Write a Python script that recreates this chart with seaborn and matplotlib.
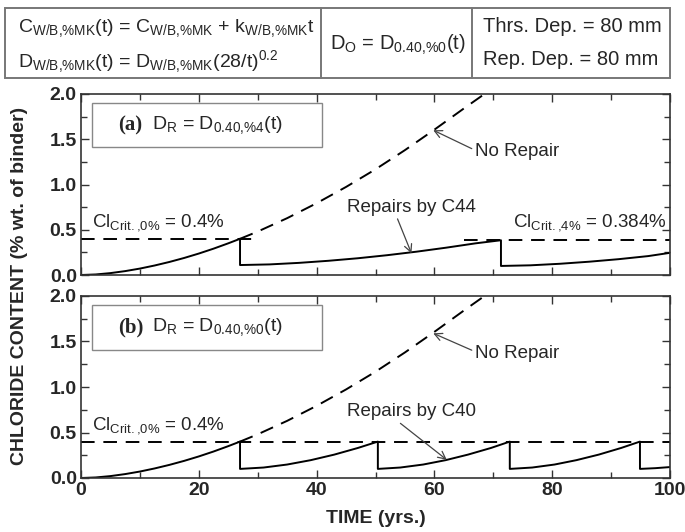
import numpy as np
import pandas as pd
import matplotlib
matplotlib.use("Agg")
import matplotlib.pyplot as plt
import seaborn as sns
from matplotlib.patches import Rectangle
from matplotlib.lines import Line2D

# ---------------- data ----------------
# initial corrosion period (same in both panels), solid
t_init = [0, 2.5, 5, 7.5, 10, 12.5, 15, 17.5, 20, 22.5, 25, 27]
c_init = [0.0, 0.006, 0.021, 0.043, 0.071, 0.105, 0.144, 0.188, 0.237, 0.291, 0.350, 0.40]

# no-repair continuation, dashed
t_norep = [27, 30, 35, 40, 45, 50, 55, 60, 65, 68.5]
c_norep = [0.40, 0.48, 0.628, 0.793, 0.973, 1.168, 1.38, 1.606, 1.84, 2.0]

# panel (a): repairs by C44
t_rep_a = [27, 27, 32, 37, 42, 47, 52, 57, 62, 67, 71.3,
           71.3, 76.3, 81.3, 86.3, 91.3, 96.3, 100]
c_rep_a = [0.40, 0.11, 0.117, 0.134, 0.157, 0.185, 0.219, 0.258, 0.302, 0.350, 0.384,
           0.10, 0.107, 0.124, 0.147, 0.175, 0.209, 0.245]

# panel (b): repairs by C40
t_rep_b = [27, 27, 31, 35, 39, 43, 47, 50.4,
           50.4, 54.2, 58.1, 61.9, 65.7, 69.6, 72.8,
           72.8, 76.6, 80.4, 84.1, 87.9, 91.7, 94.9,
           94.9, 97.5, 100]
c_rep_b = [0.40, 0.10, 0.115, 0.148, 0.196, 0.257, 0.330, 0.40,
           0.10, 0.115, 0.148, 0.196, 0.257, 0.330, 0.40,
           0.10, 0.115, 0.148, 0.196, 0.257, 0.330, 0.40,
           0.10, 0.108, 0.12]

# critical chloride thresholds
thr_a1_t = [0, 30]
thr_a1_c = [0.4, 0.4]
thr_a2_t = [65, 100]
thr_a2_c = [0.384, 0.384]
thr_b_t = [0, 100]
thr_b_c = [0.4, 0.4]

x_ticks = [0, 20, 40, 60, 80, 100]
y_ticks = [0.0, 0.5, 1.0, 1.5, 2.0]

# ---------------- style ----------------
sns.set_theme(style="ticks")
plt.rcParams['font.family'] = ['Liberation Sans', 'DejaVu Sans']
plt.rcParams['mathtext.fontset'] = 'custom'
plt.rcParams['mathtext.rm'] = 'Liberation Sans'
plt.rcParams['mathtext.it'] = 'Liberation Sans:italic'
plt.rcParams['mathtext.bf'] = 'Liberation Sans:bold'
plt.rcParams['axes.edgecolor'] = '#333333'

W, H = 685, 532
fig = plt.figure(figsize=(W / 100, H / 100), dpi=100)


def fx(px):
    return px / W


def fy(py):
    return 1 - py / H


ax_a = fig.add_axes([fx(81), fy(275), fx(670) - fx(81), fy(94) - fy(275)])
ax_b = fig.add_axes([fx(81), fy(478), fx(670) - fx(81), fy(296) - fy(478)])

dash = (0, (7, 4.5))
LW = 1.4


def draw(ax, t, c, ls='-'):
    sns.lineplot(x=t, y=c, ax=ax, color='black', lw=LW, sort=False,
                 estimator=None, linestyle=ls if isinstance(ls, str) else None)
    if not isinstance(ls, str):
        ax.lines[-1].set_linestyle(ls)


# panel a
draw(ax_a, t_init, c_init)
draw(ax_a, t_norep, c_norep, dash)
draw(ax_a, t_rep_a, c_rep_a)
draw(ax_a, thr_a1_t, thr_a1_c, dash)
draw(ax_a, thr_a2_t, thr_a2_c, dash)

# panel b
draw(ax_b, t_init, c_init)
draw(ax_b, t_norep, c_norep, dash)
draw(ax_b, t_rep_b, c_rep_b)
draw(ax_b, thr_b_t, thr_b_c, dash)

for ax in (ax_a, ax_b):
    ax.set_xlim(0, 100)
    ax.set_ylim(0, 2.0)
    ax.set_xticks(x_ticks)
    ax.set_xticks(np.arange(10, 100, 20), minor=True)
    ax.set_yticks(y_ticks)
    ax.set_yticks([0.25, 0.75, 1.25, 1.75], minor=True)
    ax.set_yticklabels([f"{v:.1f}" for v in y_ticks], fontsize=14, fontweight='bold')
    ax.tick_params(which='both', direction='in', top=True, right=True, width=1.0,
                   color='#333333')
    ax.tick_params(which='major', length=6, pad=3)
    ax.tick_params(which='minor', length=4)
    for s in ax.spines.values():
        s.set_linewidth(1.2)
    ax.set_xlabel('')
    ax.set_ylabel('')

ax_a.set_xticklabels([])
ax_b.set_xticklabels([str(v) for v in x_ticks], fontsize=14, fontweight='bold')
ax_b.set_xlabel('TIME (yrs.)', fontsize=14, fontweight='bold', labelpad=8)

fig.text(fx(20), fy(286), 'CHLORIDE CONTENT (% wt. of binder)', rotation=90,
         fontsize=14, fontweight='bold', ha='center', va='center')

# panel label boxes
for ax, lab, sub in ((ax_a, '(a)', r'D$_\mathrm{R}$ = D$_\mathrm{0.40{,}\%4}$(t)'),
                     (ax_b, '(b)', r'D$_\mathrm{R}$ = D$_\mathrm{0.40{,}\%0}$(t)')):
    ax.add_patch(Rectangle((1.9, 1.41), 39.0, 0.49, fill=False, edgecolor='#888888', lw=1.0))
    ax.text(6.3, 1.655, lab, fontsize=15, fontweight='bold', family='Liberation Serif',
            ha='left', va='center')
    ax.text(12.0, 1.655, sub, fontsize=14, ha='left', va='center')

arrow = dict(arrowstyle='->', color='#444444', lw=0.9, shrinkA=0, shrinkB=0)

# annotations panel a
ax_a.text(1.9, 0.58, r'Cl$_\mathrm{Crit{.}{,}0\%}$ = 0.4%', fontsize=13.5, ha='left', va='center')
ax_a.text(73.3, 0.58, r'Cl$_\mathrm{Crit{.}{,}4\%}$ = 0.384%', fontsize=13.5, ha='left', va='center')
ax_a.annotate('No Repair', xy=(59.8, 1.60), xytext=(66.9, 1.36), fontsize=13.5,
              ha='left', va='center', arrowprops=dict(arrow, relpos=(0, 0.6)))
ax_a.annotate('Repairs by C44', xy=(56.1, 0.24), xytext=(45.2, 0.75), fontsize=13.5,
              ha='left', va='center', arrowprops=dict(arrow, relpos=(0.38, 0)))

# annotations panel b
ax_b.text(1.9, 0.58, r'Cl$_\mathrm{Crit{.}{,}0\%}$ = 0.4%', fontsize=13.5, ha='left', va='center')
ax_b.annotate('No Repair', xy=(59.8, 1.59), xytext=(66.9, 1.37), fontsize=13.5,
              ha='left', va='center', arrowprops=dict(arrow, relpos=(0, 0.6)))
ax_b.annotate('Repairs by C40', xy=(62.1, 0.20), xytext=(45.2, 0.73), fontsize=13.5,
              ha='left', va='center', arrowprops=dict(arrow, relpos=(0.38, 0)))

# header table
fig.patches.append(Rectangle((fx(5), fy(78)), fx(670) - fx(5), fy(8) - fy(78),
                             transform=fig.transFigure, fill=False,
                             edgecolor='#777777', lw=1.4))
for xp in (321, 472):
    fig.lines.append(Line2D([fx(xp), fx(xp)], [fy(78), fy(8)], transform=fig.transFigure,
                            color='#777777', lw=1.4))

TF = 14.5
fig.text(fx(18), fy(32), r'C$_\mathrm{W/B{,}\%MK}$(t) = C$_\mathrm{W/B{,}\%MK}$ + k$_\mathrm{W/B{,}\%MK}$t',
         fontsize=14, ha='left', va='baseline')
fig.text(fx(18), fy(67), r'D$_\mathrm{W/B{,}\%MK}$(t) = D$_\mathrm{W/B{,}\%MK}$(28/t)$^\mathrm{0.2}$',
         fontsize=14, ha='left', va='baseline')
fig.text(fx(330), fy(50), r'D$_\mathrm{O}$ = D$_\mathrm{0.40{,}\%0}$(t)',
         fontsize=TF, ha='left', va='baseline')
fig.text(fx(483), fy(32), 'Thrs. Dep. = 80 mm', fontsize=TF, ha='left', va='baseline')
fig.text(fx(483), fy(65), 'Rep. Dep. = 80 mm', fontsize=TF, ha='left', va='baseline')

fig.savefig('out.png', dpi=100)
